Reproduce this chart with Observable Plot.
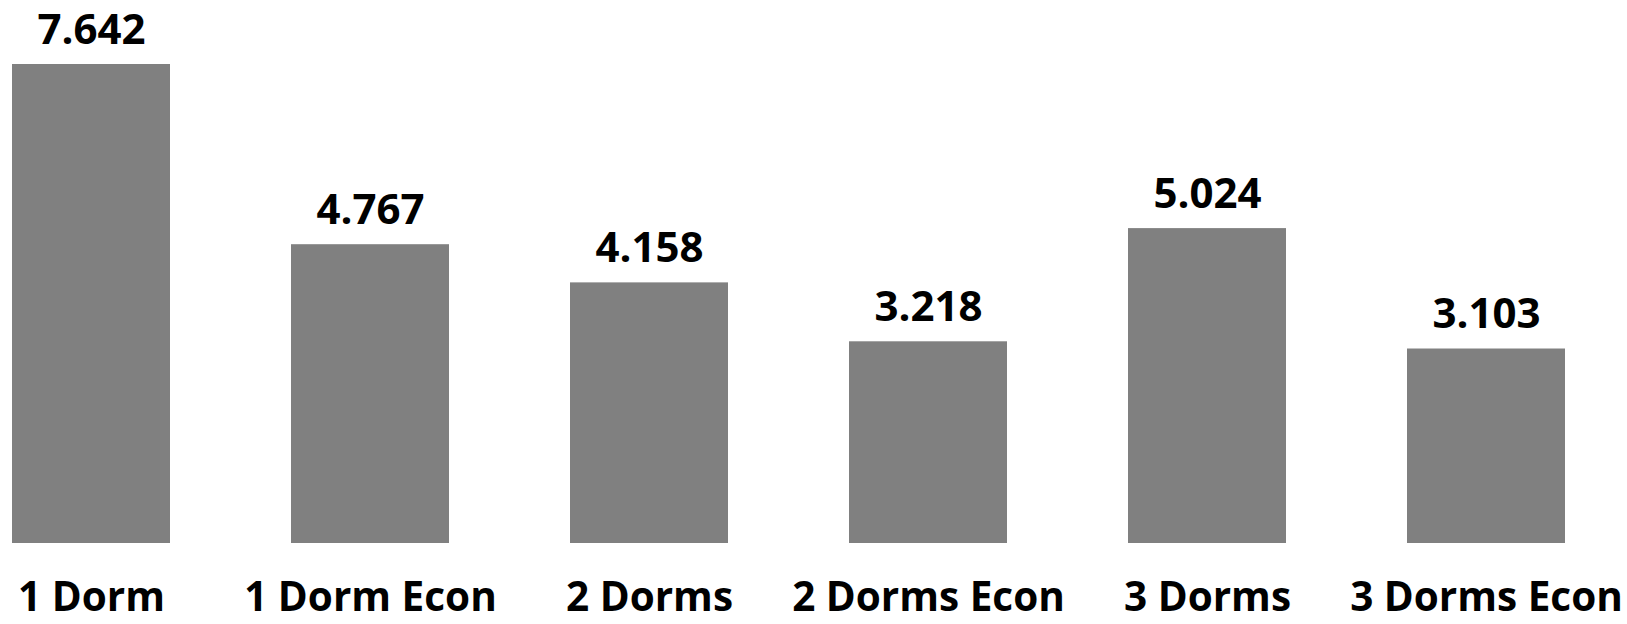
<!DOCTYPE html>
<html>
<head>
<meta charset="utf-8">
<script src="https://cdn.jsdelivr.net/npm/d3@7"></script>
<script src="https://cdn.jsdelivr.net/npm/@observablehq/plot@0.6"></script>
<style>
  html, body { margin: 0; padding: 0; background: #fff; }
</style>
</head>
<body>
<div id="chart"></div>
<script>
const categories = ["1 Dorm", "1 Dorm Econ", "2 Dorms", "2 Dorms Econ", "3 Dorms", "3 Dorms Econ"];
const values = [7.642, 4.767, 4.158, 3.218, 5.024, 3.103];
const labels = ["7.642", "4.767", "4.158", "3.218", "5.024", "3.103"];

const data = categories.map((c, i) => ({category: c, value: values[i], label: labels[i]}));

const chart = Plot.plot({
  width: 1627,
  height: 624,
  marginLeft: 10,
  marginRight: 60,
  marginTop: 64,
  marginBottom: 81,
  style: {fontFamily: "'Open Sans', sans-serif", background: "#fff"},
  x: {domain: categories, paddingInner: 0.432, paddingOuter: 0, label: null},
  y: {domain: [0, 7.642], axis: null},
  marks: [
    Plot.barY(data, {x: "category", y: "value", fill: "#808080"}),
    Plot.text(data, {x: "category", y: "value", text: "label", lineAnchor: "bottom", dy: -21,
      fontSize: 42, fontWeight: "bold", fill: "#000"}),
    Plot.axisX({tickSize: 0, tickPadding: 39, fontSize: 40.5, fontWeight: "bold", color: "#000", label: null})
  ]
});
document.getElementById("chart").appendChild(chart);
</script>
</body>
</html>
